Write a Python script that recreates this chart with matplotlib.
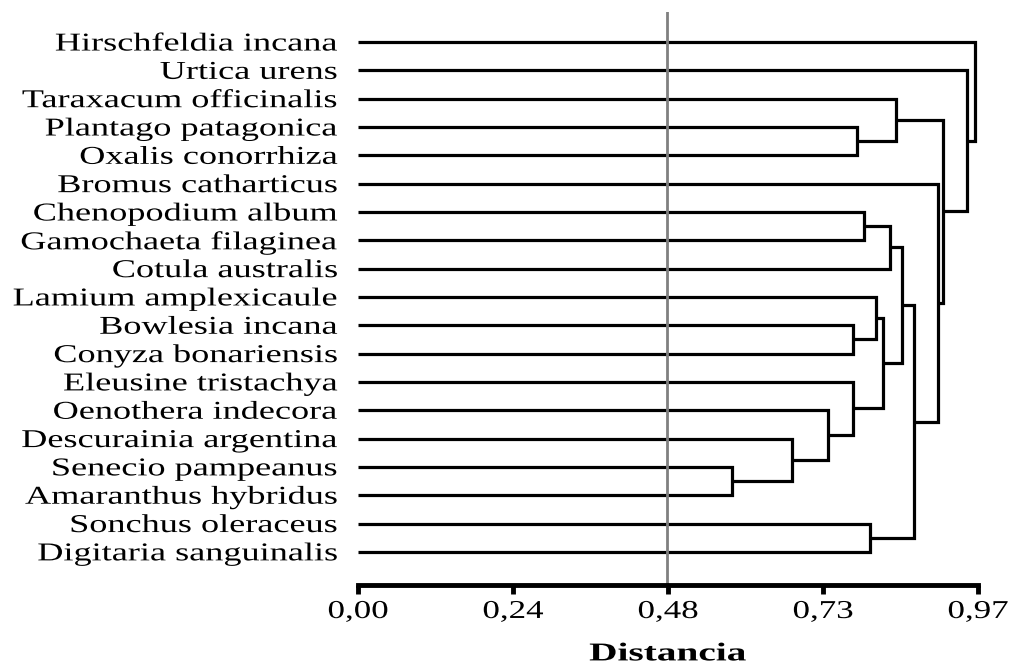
import numpy as np
import matplotlib
matplotlib.use('Agg')
from matplotlib import pyplot as plt
from matplotlib.patheffects import AbstractPathEffect
from matplotlib.transforms import Affine2D

especies = ['Hirschfeldia incana', 'Urtica urens', 'Taraxacum officinalis',
            'Plantago patagonica', 'Oxalis conorrhiza', 'Bromus catharticus',
            'Chenopodium album', 'Gamochaeta filaginea', 'Cotula australis',
            'Lamium amplexicaule', 'Bowlesia incana', 'Conyza bonariensis',
            'Eleusine tristachya', 'Oenothera indecora', 'Descurainia argentina',
            'Senecio pampeanus', 'Amaranthus hybridus', 'Sonchus oleraceus',
            'Digitaria sanguinalis']

# agrupamientos: indices < 19 son especies, >= 19 son grupos anteriores
union_a = [15, 14, 13, 12, 10, 9, 24, 6, 26, 27, 17, 28, 5, 3, 2, 33, 1, 0]
union_b = [16, 19, 20, 21, 11, 23, 22, 7, 8, 25, 18, 29, 30, 4, 32, 31, 34, 35]
distancia = [0.585, 0.679, 0.735, 0.774, 0.774, 0.810, 0.821, 0.792, 0.832,
             0.851, 0.801, 0.870, 0.907, 0.781, 0.842, 0.915, 0.953, 0.965]

dist_max = 0.97
tick_labels = ['0,00', '0,24', '0,48', '0,73', '0,97']
corte = 0.483


class Estirar(AbstractPathEffect):
    # ensancha el texto en x manteniendo fijo el punto de anclaje
    def __init__(self, sx, ancla=1.0):
        super().__init__()
        self.sx = sx
        self.ancla = ancla

    def draw_path(self, renderer, gc, tpath, affine, rgbFace=None):
        w = tpath.vertices[:, 0].max() * self.ancla if len(tpath.vertices) else 0
        t = Affine2D().translate(-w, 0).scale(self.sx, 1).translate(w, 0)
        renderer.draw_path(gc, tpath, t + affine, rgbFace)


plt.rcParams['font.family'] = 'Liberation Serif'

fig = plt.figure(figsize=(10.13, 6.66), dpi=100)
ax = fig.add_axes([358/1013, 1 - 585/666, 620/1013, 573/666])

n = len(especies)
ypos = list(range(n))
xpos = [0.0] * n
for a, b, d in zip(union_a, union_b, distancia):
    ax.plot([xpos[a], d, d, xpos[b]], [ypos[a], ypos[a], ypos[b], ypos[b]],
            color='black', lw=2.3, solid_joinstyle='miter', solid_capstyle='butt',
            clip_on=False)
    ypos.append((ypos[a] + ypos[b]) / 2)
    xpos.append(d)

ax.axvline(corte, color='#808080', lw=2)

ax.set_xlim(0, dist_max)
ax.set_ylim(19.17, -1.06)

ax.set_yticks(range(n))
ax.set_yticklabels(especies, fontsize=18.5)
ax.tick_params(axis='y', length=0, pad=14.4)

ax.set_xticks(np.linspace(0, dist_max, 5))
ax.set_xticklabels(tick_labels, fontsize=18.5)
ax.tick_params(axis='x', direction='out', length=6.5, width=3.5, pad=5)

for s in ['left', 'right', 'top']:
    ax.spines[s].set_visible(False)
ax.spines['bottom'].set_linewidth(3.5)
ax.spines['bottom'].set_capstyle('projecting')

ax.set_xlabel('Distancia', fontsize=18.5, fontweight='bold', labelpad=14)

for t in ax.get_yticklabels():
    t.set_path_effects([Estirar(1.41, 1.0)])
for t in ax.get_xticklabels():
    t.set_path_effects([Estirar(1.36, 0.5)])
ax.xaxis.label.set_path_effects([Estirar(1.53, 0.5)])

plt.savefig('out.png', dpi=100)
